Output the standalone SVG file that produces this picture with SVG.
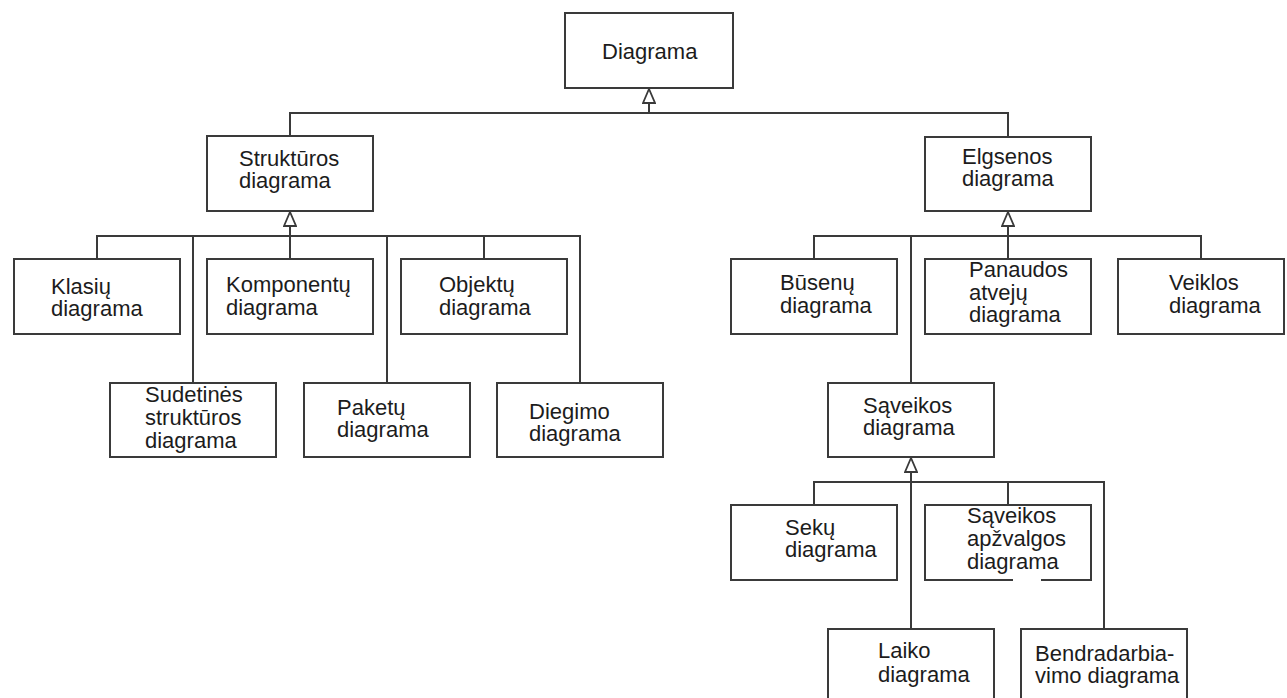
<svg xmlns="http://www.w3.org/2000/svg" width="1287" height="698" viewBox="0 0 1287 698">
  <style>
    .box { fill: #ffffff; stroke: #3a3a3a; stroke-width: 2; }
    .lbl { font-family: "Liberation Sans", Arial, sans-serif; font-size: 22px; fill: #1c1c1c; }
    .conn { fill: none; stroke: #3a3a3a; stroke-width: 2; }
  </style>
  <defs>
    <!-- hollow generalisation arrowhead -->
    <marker id="gen" viewBox="0 0 16 14" refX="15" refY="7" markerWidth="16" markerHeight="14" markerUnits="userSpaceOnUse" orient="auto">
      <path d="M1 1 L15 7 L1 13 Z" fill="#ffffff" stroke="#3a3a3a" stroke-width="1.8"/>
    </marker>
  </defs>
  <rect width="1287" height="698" fill="#ffffff"/>

  <g id="connectors" class="conn">
    <!-- Diagrama -> Struktūros / Elgsenos -->
    <path d="M649 113 V89" marker-end="url(#gen)"/>
    <path d="M290 136 V113 H1008 V137"/>
    <!-- Struktūros diagrama children -->
    <path d="M290 236 V212" marker-end="url(#gen)"/>
    <path d="M97 259 V236 H580 V383"/>
    <path d="M193 236 V383"/>
    <path d="M290 236 V259"/>
    <path d="M387 236 V383"/>
    <path d="M484 236 V259"/>
    <!-- Elgsenos diagrama children -->
    <path d="M1008 236 V212" marker-end="url(#gen)"/>
    <path d="M814 259 V236 H1201 V259"/>
    <path d="M911 236 V383"/>
    <path d="M1008 236 V259"/>
    <!-- Sąveikos diagrama children -->
    <path d="M911 629 V458" marker-end="url(#gen)"/>
    <path d="M814 505 V482 H1104 V629"/>
    <path d="M1008 482 V505"/>
  </g>

  <g id="diagrama">
    <rect class="box" x="565" y="13" width="168" height="75"/>
    <text class="lbl" x="602" y="59">Diagrama</text>
  </g>

  <g id="strukturos">
    <rect class="box" x="207" y="136" width="166" height="75"/>
    <text class="lbl" x="239" y="166">Struktūros</text>
    <text class="lbl" x="239" y="188">diagrama</text>
  </g>

  <g id="elgsenos">
    <rect class="box" x="925" y="137" width="166" height="74"/>
    <text class="lbl" x="962" y="164">Elgsenos</text>
    <text class="lbl" x="962" y="186">diagrama</text>
  </g>

  <g id="klasiu">
    <rect class="box" x="14" y="259" width="166" height="75"/>
    <text class="lbl" x="51" y="294">Klasių</text>
    <text class="lbl" x="51" y="316">diagrama</text>
  </g>

  <g id="komponentu">
    <rect class="box" x="207" y="259" width="166" height="75"/>
    <text class="lbl" x="226" y="292">Komponentų</text>
    <text class="lbl" x="226" y="315">diagrama</text>
  </g>

  <g id="objektu">
    <rect class="box" x="401" y="259" width="166" height="75"/>
    <text class="lbl" x="439" y="292">Objektų</text>
    <text class="lbl" x="439" y="315">diagrama</text>
  </g>

  <g id="sudetines">
    <rect class="box" x="110" y="383" width="166" height="74"/>
    <text class="lbl" x="145" y="402">Sudetinės</text>
    <text class="lbl" x="145" y="425">struktūros</text>
    <text class="lbl" x="145" y="448">diagrama</text>
  </g>

  <g id="paketu">
    <rect class="box" x="304" y="383" width="166" height="74"/>
    <text class="lbl" x="337" y="415">Paketų</text>
    <text class="lbl" x="337" y="437">diagrama</text>
  </g>

  <g id="diegimo">
    <rect class="box" x="497" y="383" width="166" height="74"/>
    <text class="lbl" x="529" y="419">Diegimo</text>
    <text class="lbl" x="529" y="441">diagrama</text>
  </g>

  <g id="busenu">
    <rect class="box" x="731" y="259" width="166" height="75"/>
    <text class="lbl" x="780" y="290">Būsenų</text>
    <text class="lbl" x="780" y="313">diagrama</text>
  </g>

  <g id="panaudos">
    <rect class="box" x="925" y="259" width="166" height="75"/>
    <text class="lbl" x="969" y="277">Panaudos</text>
    <text class="lbl" x="969" y="300">atvejų</text>
    <text class="lbl" x="969" y="322">diagrama</text>
  </g>

  <g id="veiklos">
    <rect class="box" x="1118" y="259" width="166" height="75"/>
    <text class="lbl" x="1169" y="290">Veiklos</text>
    <text class="lbl" x="1169" y="313">diagrama</text>
  </g>

  <g id="saveikos">
    <rect class="box" x="828" y="383" width="166" height="74"/>
    <text class="lbl" x="863" y="413">Sąveikos</text>
    <text class="lbl" x="863" y="435">diagrama</text>
  </g>

  <g id="seku">
    <rect class="box" x="731" y="505" width="166" height="75"/>
    <text class="lbl" x="785" y="535">Sekų</text>
    <text class="lbl" x="785" y="557">diagrama</text>
  </g>

  <g id="saveikos-apzvalgos">
    <rect class="box" x="925" y="505" width="166" height="75"/>
    <!-- small break in the lower edge -->
    <rect x="1013" y="577" width="28" height="6" fill="#ffffff"/>
    <text class="lbl" x="967" y="523">Sąveikos</text>
    <text class="lbl" x="967" y="546">apžvalgos</text>
    <text class="lbl" x="967" y="569">diagrama</text>
  </g>

  <g id="laiko">
    <rect class="box" x="828" y="629" width="166" height="76"/>
    <text class="lbl" x="878" y="658">Laiko</text>
    <text class="lbl" x="878" y="682">diagrama</text>
  </g>

  <g id="bendradarbiavimo">
    <rect class="box" x="1021" y="629" width="166" height="76"/>
    <text class="lbl" x="1035" y="661">Bendradarbia-</text>
    <text class="lbl" x="1035" y="683">vimo diagrama</text>
  </g>
</svg>
